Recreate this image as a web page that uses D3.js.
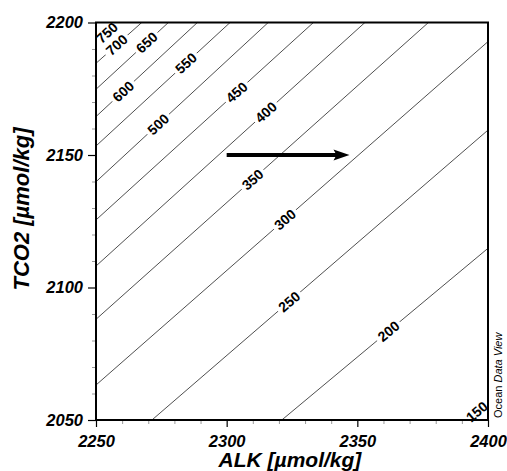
<!DOCTYPE html>
<html>
<head>
<meta charset="utf-8">
<script src="https://cdn.jsdelivr.net/npm/d3@7"></script>
<style>
  body { margin: 0; background: #fff; }
  svg { display: block; }
  text { font-family: "Liberation Sans", Arial, sans-serif; }
</style>
</head>
<body>
<svg></svg>
<script>
// pCO2 contour levels, each one drawn as a straight segment across the frame
const levels = [750, 700, 650, 600, 550, 500, 450, 400, 350, 300, 250, 200, 150];
const startALK  = [2250, 2250, 2250, 2250, 2250, 2250, 2250, 2250, 2250, 2250, 2271.4, 2321.1, 2392.0];
const startTCO2 = [2192.3, 2184.6, 2174.8, 2164.5, 2153.4, 2139.9, 2125.5, 2108.1, 2088.0, 2063.2, 2050, 2050, 2050];
const endALK    = [2258.4, 2267.5, 2277.7, 2288.8, 2301.3, 2315.9, 2333.2, 2352.9, 2377.2, 2400, 2400, 2400, 2400];
const endTCO2   = [2200, 2200, 2200, 2200, 2200, 2200, 2200, 2200, 2200, 2192.8, 2159.4, 2114.8, 2056.8];
const labelALK  = [2254.2, 2257.9, 2269.4, 2260.4, 2284.4, 2273.8, 2303.8, 2315.0, 2309.9, 2322.3, 2323.9, 2361.9, 2395.7];

const xTicks = [2250, 2300, 2350, 2400];
const yTicks = [2050, 2100, 2150, 2200];

// arrow: alkalinity increase at constant TCO2
const arrowALK = [2300, 2347];
const arrowTCO2 = 2150;

const W = 507, H = 471;
const margin = {left: 96, right: 19, top: 22.5, bottom: 51};

const svg = d3.select("svg").attr("width", W).attr("height", H);

const x = d3.scaleLinear().domain([2250, 2400]).range([margin.left, W - margin.right]);
const y = d3.scaleLinear().domain([2050, 2200]).range([H - margin.bottom, margin.top]);

// contour lines
const contours = levels.map((lv, i) => ({
  level: lv,
  x1: x(startALK[i]), y1: y(startTCO2[i]),
  x2: x(endALK[i]), y2: y(endTCO2[i]),
  lx: labelALK[i]
}));

const lines = svg.append("g");
lines.selectAll("line").data(contours).enter().append("line")
  .attr("x1", d => d.x1).attr("y1", d => d.y1)
  .attr("x2", d => d.x2).attr("y2", d => d.y2)
  .attr("stroke", "#222").attr("stroke-width", 0.8);

const labels = svg.append("g");
contours.forEach(d => {
  const t = (x(d.lx) - d.x1) / (d.x2 - d.x1);
  const px = x(d.lx), py = d.y1 + t * (d.y2 - d.y1);
  const ang = Math.atan2(d.y2 - d.y1, d.x2 - d.x1) * 180 / Math.PI;
  const g = labels.append("g").attr("transform", `translate(${px},${py}) rotate(${ang})`);
  const txt = g.append("text").attr("text-anchor", "middle").attr("dy", "0.36em")
    .attr("font-size", 14).attr("font-weight", "bold").attr("fill", "#000").text(d.level);
  const w = txt.node().getComputedTextLength();
  g.insert("rect", "text").attr("x", -w / 2 - 3).attr("y", -4).attr("width", w + 6).attr("height", 8).attr("fill", "#fff");
});

// arrow
const ay = y(arrowTCO2), ax0 = x(arrowALK[0]), ax1 = x(arrowALK[1]);
svg.append("line").attr("x1", ax0).attr("y1", ay).attr("x2", ax1 - 12).attr("y2", ay)
  .attr("stroke", "#000").attr("stroke-width", 4);
svg.append("path")
  .attr("d", `M${ax1},${ay} L${ax1 - 16},${ay - 5.5} L${ax1 - 13},${ay} L${ax1 - 16},${ay + 5.5} Z`)
  .attr("fill", "#000");

// axes
const xAxis = svg.append("g").attr("transform", `translate(0,${H - margin.bottom})`)
  .call(d3.axisBottom(x).tickValues(xTicks).tickSize(7).tickPadding(8).tickFormat(d3.format("d")));
const xMinor = svg.append("g").attr("transform", `translate(0,${H - margin.bottom})`)
  .call(d3.axisBottom(x).tickValues(d3.range(2260, 2400, 10).filter(v => v % 50)).tickSize(4).tickFormat(""));
const yAxis = svg.append("g").attr("transform", `translate(${margin.left},0)`)
  .call(d3.axisLeft(y).tickValues(yTicks).tickSize(8).tickPadding(5).tickFormat(d3.format("d")));
const yMinor = svg.append("g").attr("transform", `translate(${margin.left},0)`)
  .call(d3.axisLeft(y).tickValues(d3.range(2060, 2200, 10).filter(v => v % 50)).tickSize(4).tickFormat(""));

[xAxis, xMinor, yAxis, yMinor].forEach(a => a.select(".domain").remove());
[xMinor, yMinor].forEach(a => a.selectAll(".tick line").attr("stroke", "#999"));
[xAxis, yAxis].forEach(a => a.selectAll(".tick line").attr("stroke-width", 1.2));
[xAxis, yAxis].forEach(a => a.selectAll(".tick text")
  .attr("font-family", "Liberation Sans, Arial, sans-serif")
  .attr("font-size", 16.5).attr("font-weight", "bold").attr("font-style", "italic").attr("fill", "#000"));

// frame
svg.append("rect")
  .attr("x", margin.left).attr("y", margin.top)
  .attr("width", W - margin.left - margin.right).attr("height", H - margin.top - margin.bottom)
  .attr("fill", "none").attr("stroke", "#000").attr("stroke-width", 2);

// titles
svg.append("text").attr("x", 290).attr("y", 467).attr("text-anchor", "middle")
  .attr("font-size", 21).attr("font-weight", "bold").attr("font-style", "italic")
  .text("ALK [µmol/kg]");
svg.append("text").attr("transform", `translate(29,${209}) rotate(-90)`).attr("text-anchor", "middle")
  .attr("font-size", 22).attr("font-weight", "bold").attr("font-style", "italic")
  .text("TCO2 [µmol/kg]");

const odv = svg.append("text").attr("transform", `translate(502,418) rotate(-90)`)
  .attr("font-size", 11).attr("fill", "#000");
odv.append("tspan").text("Ocean ");
odv.append("tspan").attr("font-style", "italic").text("Data View");
</script>
</body>
</html>
